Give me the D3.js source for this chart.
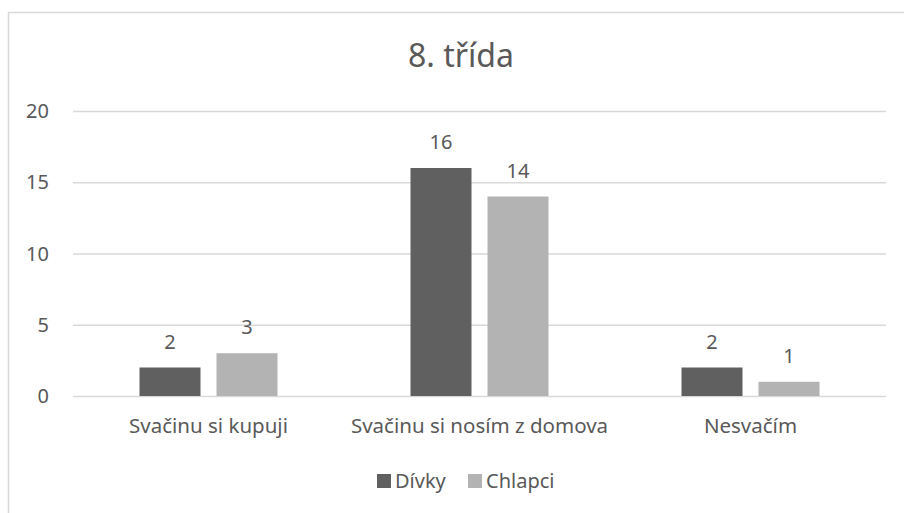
<!DOCTYPE html>
<html>
<head>
<meta charset="utf-8">
<script src="https://cdn.jsdelivr.net/npm/d3@7"></script>
<style>
  body { margin: 0; background: #fff; }
  text { font-family: "Noto Sans", Lato, sans-serif; fill: #595959; }
</style>
</head>
<body>
<svg id="chart" width="904" height="513"></svg>
<script>
// chart data
var title = "8. třída";
var categories = ["Svačinu si kupuji", "Svačinu si nosím z domova", "Nesvačím"];
var seriesNames = ["Dívky", "Chlapci"];
var divky = [2, 16, 2];
var chlapci = [3, 14, 1];
var yTicks = [0, 5, 10, 15, 20];

var colors = {"Dívky": "#606060", "Chlapci": "#b3b3b3"};
var values = {"Dívky": divky, "Chlapci": chlapci};

var svg = d3.select("#chart");

// outer chart frame
svg.append("rect")
    .attr("x", 8.5).attr("y", 12.5)
    .attr("width", 1000).attr("height", 600)
    .attr("fill", "none").attr("stroke", "#d9d9d9").attr("stroke-width", 1.5);

var plotLeft = 73, plotRight = 886, plotTop = 111, plotBottom = 396;

var x0 = d3.scaleBand().domain(categories).range([plotLeft, plotRight]);
var x1 = d3.scaleBand().domain(seriesNames).range([0, 138]).paddingInner(16 / 77);
var y = d3.scaleLinear().domain([0, 20]).range([plotBottom, plotTop]);

// gridlines
svg.append("g").selectAll("line").data(yTicks).join("line")
    .attr("x1", plotLeft).attr("x2", plotRight)
    .attr("y1", d => y(d) + 0.5).attr("y2", d => y(d) + 0.5)
    .attr("stroke", "#d9d9d9").attr("stroke-width", 1.3);

// y tick labels
svg.append("g").selectAll("text").data(yTicks).join("text")
    .attr("x", 49).attr("y", d => y(d))
    .attr("dy", "0.36em")
    .attr("text-anchor", "end")
    .style("font-size", "20px")
    .text(d => d);

// bars
var groups = svg.append("g").selectAll("g").data(categories).join("g")
    .attr("transform", c => "translate(" + (x0(c) + x0.bandwidth() / 2 - 69) + ",0)");

groups.each(function(c, i) {
    var g = d3.select(this);
    seriesNames.forEach(function(s) {
        var v = values[s][i];
        g.append("rect")
            .attr("x", x1(s)).attr("width", x1.bandwidth())
            .attr("y", y(v)).attr("height", y(0) - y(v))
            .attr("fill", colors[s]);
        g.append("text")
            .attr("x", x1(s) + x1.bandwidth() / 2)
            .attr("y", y(v) - 19)
            .attr("text-anchor", "middle")
            .style("font-size", "20px")
            .text(v);
    });
});

// category labels
svg.append("g").selectAll("text").data(categories).join("text")
    .attr("x", c => x0(c) + x0.bandwidth() / 2)
    .attr("y", 433)
    .attr("text-anchor", "middle")
    .style("font-size", "20.5px")
    .text(c => c);

// title
svg.append("text")
    .attr("x", 461).attr("y", 67)
    .attr("text-anchor", "middle")
    .style("font-size", "32px")
    .text(title);

// legend
var legendX = [377, 468];
var legend = svg.append("g").selectAll("g").data(seriesNames).join("g")
    .attr("transform", (d, i) => "translate(" + legendX[i] + ",474)");
legend.append("rect")
    .attr("width", 14).attr("height", 14)
    .attr("fill", d => colors[d]);
legend.append("text")
    .attr("x", 18).attr("y", 14)
    .style("font-size", "20px")
    .text(d => d);
</script>
</body>
</html>
